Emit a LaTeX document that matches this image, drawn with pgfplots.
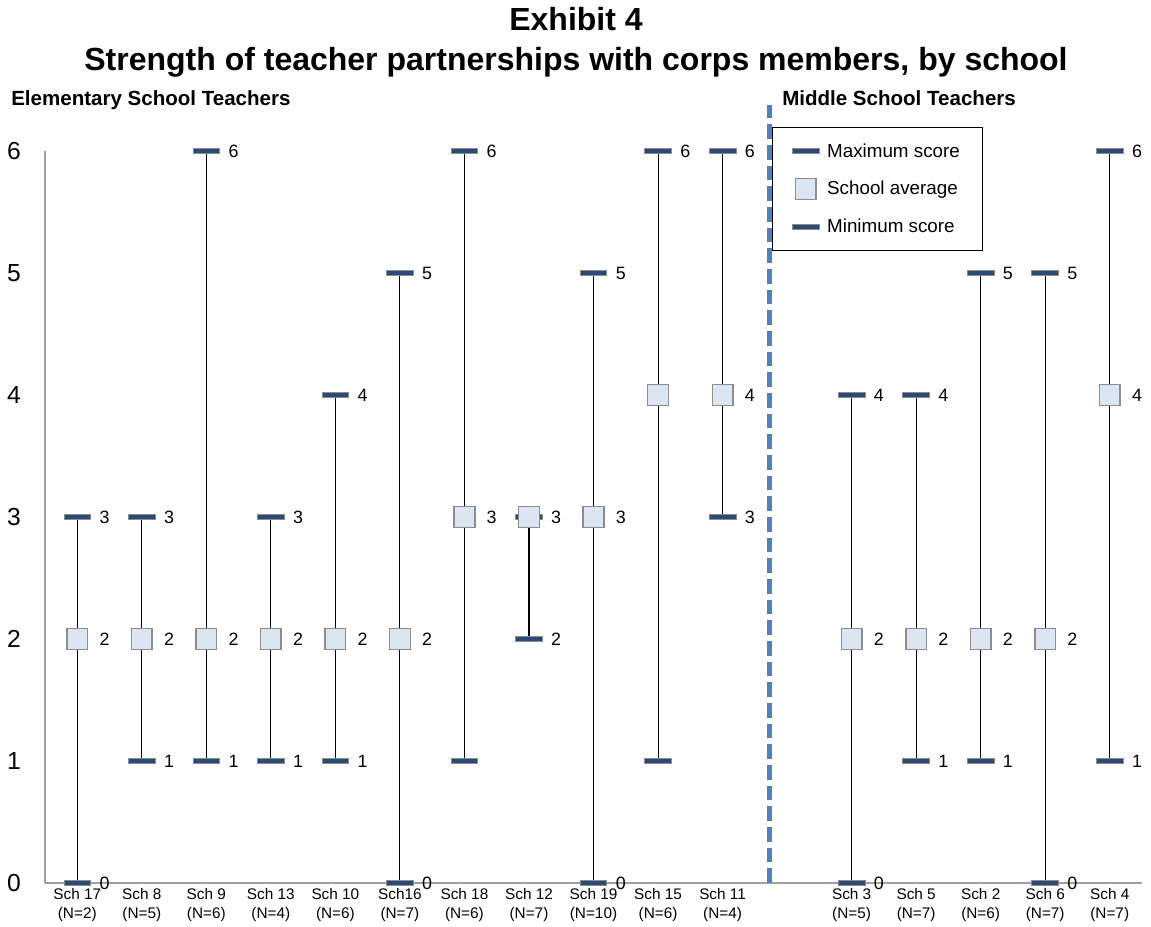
\documentclass[border=0pt]{standalone}
\usepackage{pgfplots}
\pgfplotsset{compat=1.18}
\usepackage{pgfplotstable}
\usepackage{fontspec}
\setmainfont{Liberation Sans}
\definecolor{barblue}{RGB}{44,74,118}
\definecolor{avgfill}{RGB}{220,230,242}
\definecolor{mkgray}{RGB}{140,140,140}
\definecolor{dashblue}{RGB}{79,129,189}
\definecolor{axgray}{RGB}{160,160,160}

\pgfplotstableread{
x max avg min
0 3 2 0
1 3 2 1
2 6 2 1
3 3 2 1
4 4 2 1
5 5 2 0
6 6 3 1
7 3 3 2
8 5 3 0
9 6 4 1
10 6 4 3
12 4 2 0
13 4 2 1
14 5 2 1
15 5 2 0
16 6 4 1
}\data

\begin{document}
\begin{tikzpicture}
\useasboundingbox (-33.75pt,-32.25pt) rectangle (829.5pt,662.25pt);
\begin{axis}[
  at={(0pt,0pt)}, anchor=south west,
  scale only axis, width=822.75pt, height=549pt,
  xmin=-0.5, xmax=16.5, ymin=0, ymax=6,
  axis x line*=bottom, axis y line*=left,
  axis line style={axgray, line width=0.8pt},
  major tick length=0pt,
  xtick={0,1,2,3,4,5,6,7,8,9,10,12,13,14,15,16},
  xticklabels={{Sch 17\\(N=2)},{Sch 8\\(N=5)},{Sch 9\\(N=6)},{Sch 13\\(N=4)},{Sch 10\\(N=6)},{Sch16\\(N=7)},{Sch 18\\(N=6)},{Sch 12\\(N=7)},{Sch 19\\(N=10)},{Sch 15\\(N=6)},{Sch 11\\(N=4)},{Sch 3\\(N=5)},{Sch 5\\(N=7)},{Sch 2\\(N=6)},{Sch 6\\(N=7)},{Sch 4\\(N=7)}},
  xticklabel style={align=center, font=\fontsize{11.5}{14}\selectfont, inner sep=1pt, yshift=-3pt},
  ytick={0,1,2,3,4,5,6},
  yticklabel style={font=\fontsize{18.5}{20}\selectfont, inner sep=0pt, xshift=-18pt},
  /pgf/number format/assume math mode=true,
  clip=false,
  legend cell align=left,
  legend style={at={(0.6627,1.0328)}, anchor=north west, draw=black, line width=0.8pt,
    font=\fontsize{14.1}{16}\selectfont, inner xsep=15pt, inner ysep=10pt, row sep=12.5pt, column sep=4pt},
]
% vertical range lines
\addplot[forget plot, only marks, mark=none,
  error bars/.cd, y dir=plus, y explicit, error mark=none,
  error bar style={black, line width=0.8pt}]
  table[x=x, y=min, y error expr=\thisrow{max}-\thisrow{min}] {\data};
% markers
\addplot[only marks, mark=square*, mark size=10pt,
  mark options={yscale=0.19, fill=barblue, draw=mkgray, line width=0.6pt}]
  table[x=x, y=max] {\data};
\addlegendentry{Maximum score}
\addplot[only marks, mark=square*, mark size=7.75pt,
  mark options={fill=avgfill, draw=mkgray, line width=1.1pt}]
  table[x=x, y=avg] {\data};
\addlegendentry{School average}
\addplot[only marks, mark=square*, mark size=10pt,
  mark options={yscale=0.19, fill=barblue, draw=mkgray, line width=0.6pt}]
  table[x=x, y=min] {\data};
\addlegendentry{Minimum score}
% value labels
\pgfplotsset{lbl/.style={forget plot, only marks, mark=none, nodes near coords, point meta=y,
  every node near coord/.append style={anchor=west, inner sep=0pt, xshift=16.5pt,
    font=\fontsize{13.4}{14}\selectfont, text=black}}}
\addplot[lbl] coordinates {(0,3) (1,3) (2,6) (3,3) (4,4) (5,5) (6,6) (8,5) (9,6) (10,6) (12,4) (13,4) (14,5) (15,5) (16,6)};
\addplot[lbl] coordinates {(0,2) (1,2) (2,2) (3,2) (4,2) (5,2) (6,3) (7,3) (8,3) (10,4) (12,2) (13,2) (14,2) (15,2) (16,4)};
\addplot[lbl] coordinates {(0,0) (1,1) (2,1) (3,1) (4,1) (5,0) (7,2) (8,0) (10,3) (12,0) (13,1) (14,1) (15,0) (16,1)};
\end{axis}
\draw[dashblue, line width=3.75pt, dash pattern=on 11pt off 4.5pt] (543pt,0pt) -- (543pt,583.5pt);
\node[anchor=base, font=\bfseries\fontsize{24}{28}\selectfont, inner sep=0pt] at (398.25pt,639pt) {Exhibit 4};
\node[anchor=base, font=\bfseries\fontsize{24}{28}\selectfont, inner sep=0pt] at (398.25pt,609pt) {Strength of teacher partnerships with corps members, by school};
\node[anchor=base west, font=\bfseries\fontsize{15.4}{18}\selectfont, inner sep=0pt] at (-25.5pt,582.75pt) {Elementary School Teachers};
\node[anchor=base west, font=\bfseries\fontsize{15.4}{18}\selectfont, inner sep=0pt] at (552.75pt,582.75pt) {Middle School Teachers};
\end{tikzpicture}
\end{document}
